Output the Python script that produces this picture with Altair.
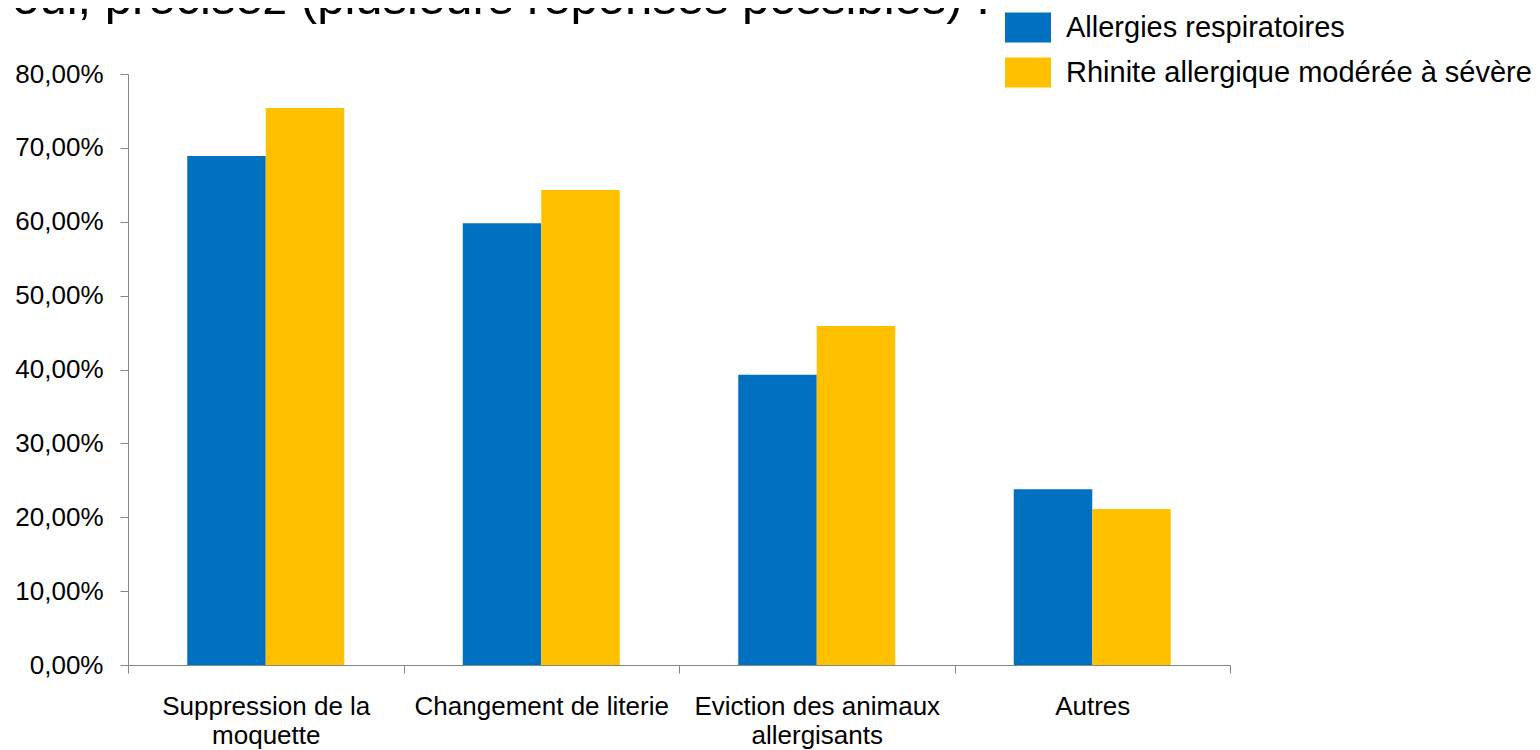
import altair as alt
import pandas as pd

categories = [
    "Suppression de la\nmoquette",
    "Changement de literie",
    "Eviction des animaux\nallergisants",
    "Autres",
]
series = ["Allergies respiratoires", "Rhinite allergique modérée à sévère"]
allergies_respiratoires = [68.9, 59.8, 39.3, 23.8]
rhinite_moderee_severe = [75.4, 64.3, 45.9, 21.1]
colors = ["#0070C0", "#FFC000"]
y_ticks = [0, 10, 20, 30, 40, 50, 60, 70, 80]
title_text = "Si oui, précisez (plusieurs réponses possibles) :"

rows = []
for c, a, r in zip(categories, allergies_respiratoires, rhinite_moderee_severe):
    rows.append({"cat": c, "series": series[0], "value": a})
    rows.append({"cat": c, "series": series[1], "value": r})
df = pd.DataFrame(rows)

FONT = "Liberation Sans"
AX = "#868686"

bars = alt.Chart(df).mark_bar().encode(
    x=alt.X(
        "cat:N",
        sort=categories,
        scale=alt.Scale(paddingInner=0, paddingOuter=0),
        axis=alt.Axis(
            title=None,
            labelAngle=0,
            tickBand="extent",
            labelExpr="split(datum.label, '\\n')",
            labelFont=FONT,
            labelFontSize=26,
            labelColor="#000000",
            labelPadding=20,
            labelLineHeight=29,
            labelLimit=500,
            tickSize=8,
            tickColor=AX,
            domainColor=AX,
            grid=False,
        ),
    ),
    xOffset=alt.XOffset(
        "series:N", sort=series, scale=alt.Scale(paddingOuter=0.755, paddingInner=0)
    ),
    y=alt.Y(
        "value:Q",
        scale=alt.Scale(domain=[0, 80], nice=False),
        axis=alt.Axis(
            title=None,
            values=y_ticks,
            labelExpr="replace(format(datum.value, '.2f'), '.', ',') + '%'",
            labelFont=FONT,
            labelFontSize=26,
            labelColor="#000000",
            labelPadding=17,
            tickSize=8,
            tickColor=AX,
            domainColor=AX,
            grid=False,
        ),
    ),
    color=alt.Color(
        "series:N",
        sort=series,
        scale=alt.Scale(domain=series, range=colors),
        legend=alt.Legend(
            title=None,
            orient="none",
            legendX=877,
            legendY=-69.5,
            symbolType="M-1,-0.652H1V0.652H-1Z",
            symbolSize=2116,
            symbolStrokeWidth=0,
            symbolOpacity=1,
            labelFont=FONT,
            labelFontSize=29,
            labelColor="#000000",
            labelOffset=15,
            labelLimit=1000,
            rowPadding=7,
            padding=0,
        ),
    ),
)

title = alt.Chart(pd.DataFrame({"t": [title_text]})).mark_text(
    font=FONT,
    fontSize=49,
    color="#000000",
    align="left",
    baseline="alphabetic",
).encode(
    text="t:N",
    x=alt.value(-173),
    y=alt.value(-60),
)

chart = alt.layer(bars, title).properties(
    width=1102,
    height=591,
    autosize=alt.AutoSizeParams(type="none"),
    padding={"left": 120, "top": 66, "right": 302, "bottom": 85},
    background="white",
).configure_view(strokeWidth=0)

chart.save("out.html", embed_options={"renderer": "svg", "actions": False})
